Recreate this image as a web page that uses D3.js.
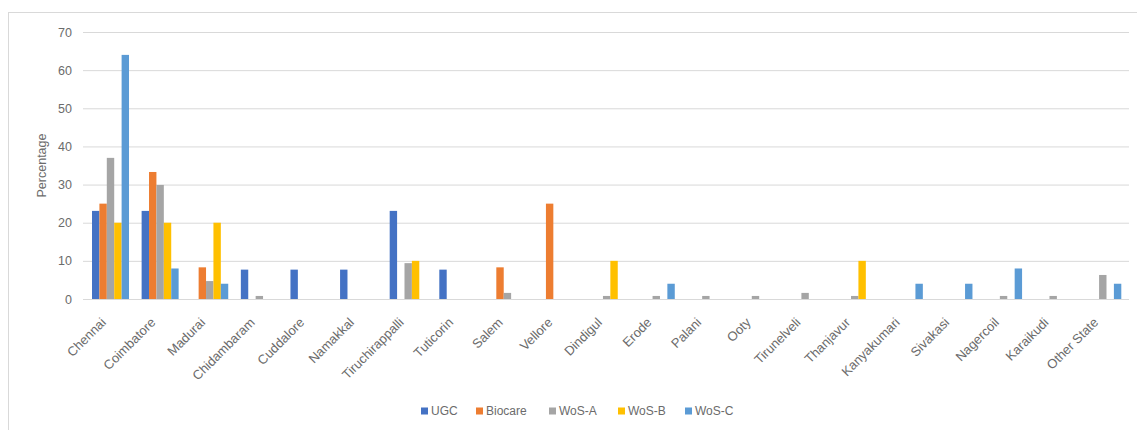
<!DOCTYPE html>
<html>
<head>
<meta charset="utf-8">
<script src="https://cdn.jsdelivr.net/npm/d3@7/dist/d3.min.js"></script>
<style>
  html, body { margin: 0; padding: 0; background: #fff; }
  svg text { font-family: "Liberation Sans", Arial, sans-serif; fill: #6b6b6b; }
</style>
</head>
<body>
<svg id="chart" width="1137" height="430"></svg>
<script>
// Share of records by city, per source (percent)
const categories = ["Chennai", "Coimbatore", "Madurai", "Chidambaram", "Cuddalore", "Namakkal",
  "Tiruchirappalli", "Tuticorin", "Salem", "Vellore", "Dindigul", "Erode", "Palani", "Ooty",
  "Tirunelveli", "Thanjavur", "Kanyakumari", "Sivakasi", "Nagercoil", "Karaikudi", "Other State"];
const seriesNames = ["UGC", "Biocare", "WoS-A", "WoS-B", "WoS-C"];
const ugc     = [23.1, 23.1, 0, 7.7, 7.7, 7.7, 23.1, 7.7, 0, 0, 0, 0, 0, 0, 0, 0, 0, 0, 0, 0, 0];
const biocare = [25, 33.3, 8.3, 0, 0, 0, 0, 0, 8.3, 25, 0, 0, 0, 0, 0, 0, 0, 0, 0, 0, 0];
const wosA    = [37, 29.9, 4.7, 0.8, 0, 0, 9.4, 0, 1.6, 0, 0.8, 0.8, 0.8, 0.8, 1.6, 0.8, 0, 0, 0.8, 0.8, 6.3];
const wosB    = [20, 20, 20, 0, 0, 0, 10, 0, 0, 0, 10, 0, 0, 0, 0, 10, 0, 0, 0, 0, 0];
const wosC    = [64, 8, 4, 0, 0, 0, 0, 0, 0, 0, 0, 4, 0, 0, 0, 0, 4, 4, 8, 0, 4];
const yTicks  = [0, 10, 20, 30, 40, 50, 60, 70];
const colors  = ["#4472C4", "#ED7D31", "#A5A5A5", "#FFC000", "#5B9BD5"];

const seriesValues = [ugc, biocare, wosA, wosB, wosC];
const rows = categories.map((c, i) => ({
  city: c,
  values: seriesNames.map((s, k) => ({ key: s, value: seriesValues[k][i] }))
}));

const svg = d3.select("#chart");

// chart frame
svg.append("rect")
  .attr("x", 8.5).attr("y", 12.5)
  .attr("width", 1140).attr("height", 430)
  .attr("fill", "#fff").attr("stroke", "#d9d9d9");

const plot = { left: 83, right: 1129, top: 32, bottom: 299 };

const y = d3.scaleLinear().domain([0, 70]).range([plot.bottom, plot.top]);
const x0 = d3.scaleBand().domain(categories).range([85.7, 1127.6])
  .paddingInner(0.254).paddingOuter(0.127);
const x1 = d3.scaleBand().domain(seriesNames).range([0, x0.bandwidth()]).padding(0);
const color = d3.scaleOrdinal().domain(seriesNames).range(colors);

// gridlines + value axis labels
const yAxis = d3.axisLeft(y).tickValues(yTicks).tickSize(-(plot.right - plot.left)).tickPadding(11);
const gy = svg.append("g").attr("transform", `translate(${plot.left},0)`).call(yAxis);
gy.select(".domain").remove();
gy.selectAll(".tick line").attr("stroke", "#d9d9d9").attr("stroke-width", 1);
gy.selectAll(".tick text").attr("font-size", 12.5).attr("fill", "#6b6b6b");

svg.append("text")
  .attr("transform", `translate(46,${(plot.top + plot.bottom) / 2}) rotate(-90)`)
  .attr("text-anchor", "middle")
  .attr("font-size", 12.5)
  .text("Percentage");

// bars
const groups = svg.append("g").selectAll("g").data(rows).join("g")
  .attr("transform", d => `translate(${x0(d.city)},0)`);
groups.selectAll("rect").data(d => d.values.filter(v => v.value > 0)).join("rect")
  .attr("x", d => x1(d.key))
  .attr("width", x1.bandwidth())
  .attr("y", d => y(d.value))
  .attr("height", d => y(0) - y(d.value))
  .attr("fill", d => color(d.key));

// category labels
const xAxis = d3.axisBottom(x0).tickSize(0).tickPadding(0);
const gx = svg.append("g").attr("transform", `translate(0,${plot.bottom})`).call(xAxis);
gx.select(".domain").remove();
gx.selectAll(".tick text")
  .attr("font-size", 13)
  .attr("fill", "#6b6b6b")
  .attr("text-anchor", "end")
  .attr("dy", "0.35em")
  .attr("transform", "translate(-7,21) rotate(-45)");

// legend
const legendItems = [
  { key: "UGC", x: 421 }, { key: "Biocare", x: 476 }, { key: "WoS-A", x: 549 },
  { key: "WoS-B", x: 618 }, { key: "WoS-C", x: 685 }
];
const lg = svg.append("g").selectAll("g").data(legendItems).join("g")
  .attr("transform", d => `translate(${d.x},411)`);
lg.append("rect").attr("x", 0).attr("y", -3.5).attr("width", 7).attr("height", 7)
  .attr("fill", d => color(d.key));
lg.append("text").attr("x", 10).attr("dy", "0.35em").attr("font-size", 12).text(d => d.key);
</script>
</body>
</html>
